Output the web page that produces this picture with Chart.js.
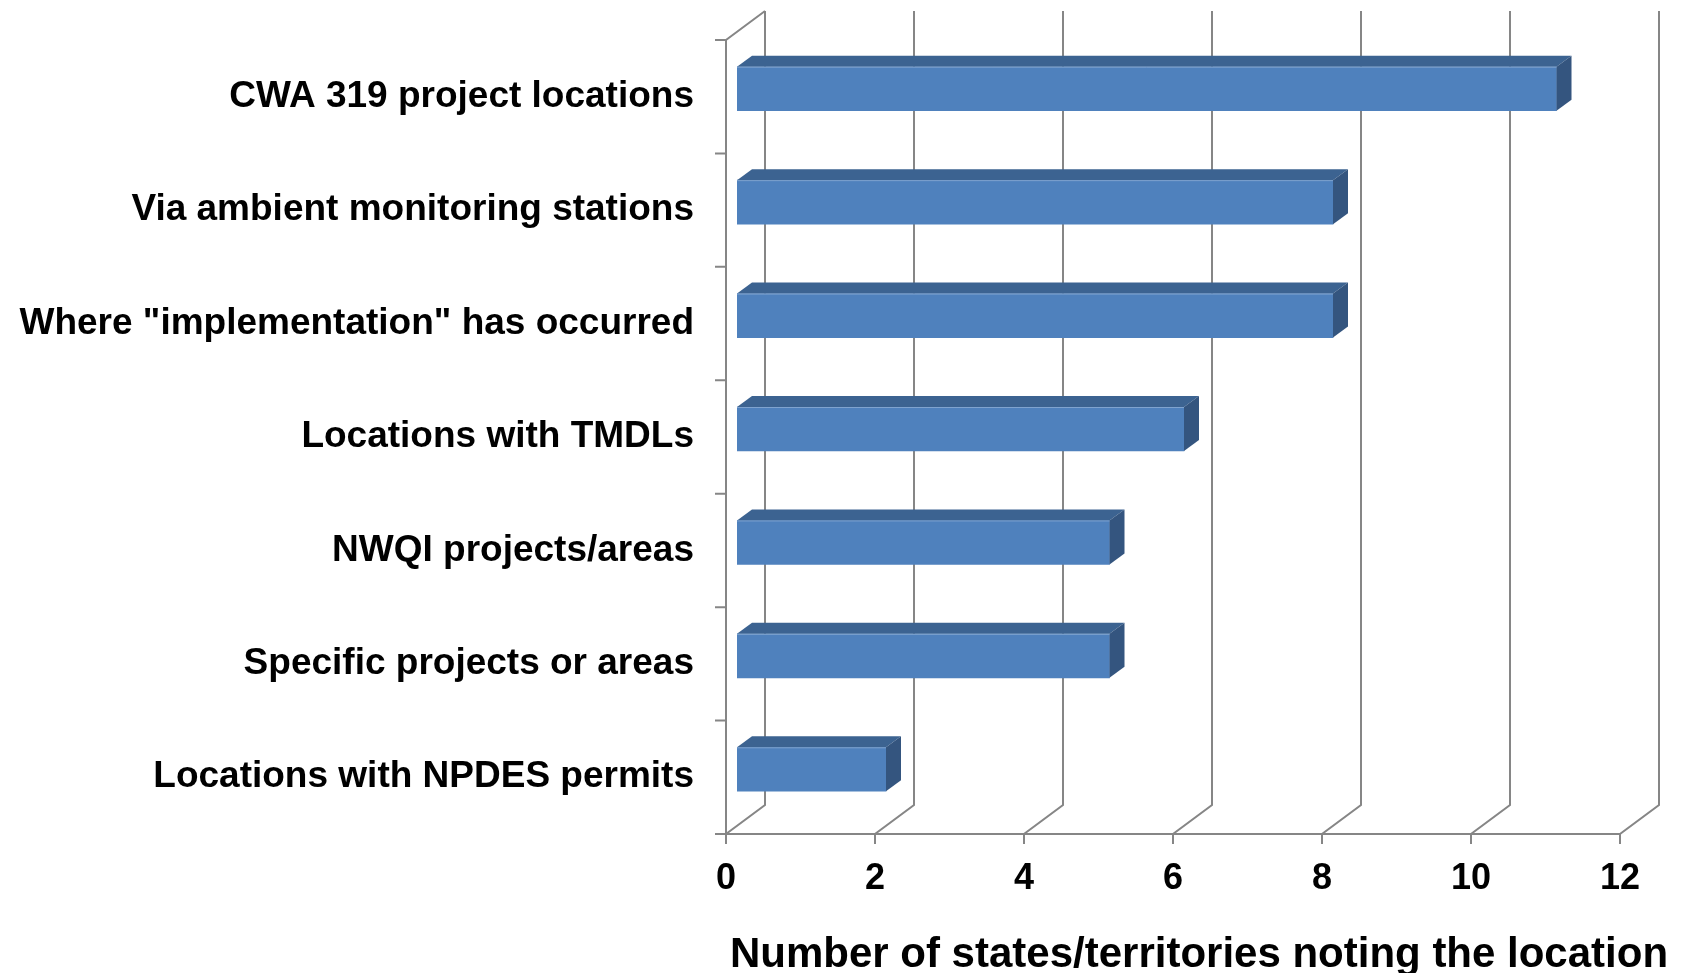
<!DOCTYPE html>
<html>
<head>
<meta charset="utf-8">
<script src="https://cdn.jsdelivr.net/npm/chart.js@4.4.1/dist/chart.umd.min.js"></script>
<style>
html, body { margin: 0; padding: 0; background: #fff; }
#wrap { width: 1702px; height: 973px; }
</style>
</head>
<body>
<div id="wrap"><canvas id="chart"></canvas></div>
<script>
// data
const categories = [
    'CWA 319 project locations',
    'Via ambient monitoring stations',
    'Where "implementation" has occurred',
    'Locations with TMDLs',
    'NWQI projects/areas',
    'Specific projects or areas',
    'Locations with NPDES permits'
];
const counts = [11, 8, 8, 6, 5, 5, 2];
const xTicks = [0, 2, 4, 6, 8, 10, 12];
const axisTitle = 'Number of states/territories noting the location';

// 3d look
const wallDepth = { dx: 39, dy: 29 };
const barShift = { dx: 11, dy: -8 };
const barDepth = { dx: 15, dy: 11 };
const gridColor = '#868686';
const frontColor = '#4f81bd';
const topColor = '#3c6391';
const sideColor = '#34557f';
const fontFamily = "'Liberation Sans', Arial, sans-serif";

const frame3d = {
    id: 'frame3d',
    beforeDatasetsDraw(chart) {
        const { ctx, chartArea: a, scales: { x } } = chart;
        ctx.save();
        ctx.strokeStyle = gridColor;
        ctx.lineWidth = 2;
        ctx.beginPath();
        xTicks.forEach(v => {
            const px = x.getPixelForValue(v);
            ctx.moveTo(px, a.bottom + 10);
            ctx.lineTo(px, a.bottom);
            ctx.lineTo(px + wallDepth.dx, a.bottom - wallDepth.dy);
            ctx.lineTo(px + wallDepth.dx, a.top - wallDepth.dy);
        });
        // floor edge
        ctx.moveTo(a.left, a.bottom);
        ctx.lineTo(a.right, a.bottom);
        // side wall
        ctx.moveTo(a.left, a.bottom);
        ctx.lineTo(a.left, a.top);
        ctx.lineTo(a.left + wallDepth.dx, a.top - wallDepth.dy);
        // category ticks
        const band = (a.bottom - a.top) / categories.length;
        for (let i = 0; i <= categories.length; i++) {
            const py = a.top + i * band;
            ctx.moveTo(a.left - 11, py);
            ctx.lineTo(a.left, py);
        }
        ctx.stroke();
        ctx.restore();
    },
    beforeDatasetDraw(chart) {
        chart.ctx.save();
        chart.ctx.translate(barShift.dx, barShift.dy);
    },
    afterDatasetDraw(chart, args) {
        const ctx = chart.ctx;
        args.meta.data.forEach(bar => {
            const p = bar.getProps(['x', 'y', 'base', 'height'], true);
            const x0 = p.base, x1 = p.x;
            const t = p.y - p.height / 2, b = p.y + p.height / 2;
            const dx = barDepth.dx, dy = barDepth.dy;
            ctx.fillStyle = topColor;
            ctx.beginPath();
            ctx.moveTo(x0, t);
            ctx.lineTo(x1, t);
            ctx.lineTo(x1 + dx, t - dy);
            ctx.lineTo(x0 + dx, t - dy);
            ctx.closePath();
            ctx.fill();
            ctx.fillStyle = sideColor;
            ctx.beginPath();
            ctx.moveTo(x1, t);
            ctx.lineTo(x1 + dx, t - dy);
            ctx.lineTo(x1 + dx, b - dy);
            ctx.lineTo(x1, b);
            ctx.closePath();
            ctx.fill();
            // light edge on top of front face
            ctx.strokeStyle = '#7fa3cf';
            ctx.lineWidth = 1;
            ctx.beginPath();
            ctx.moveTo(x0, t + 0.5);
            ctx.lineTo(x1, t + 0.5);
            ctx.stroke();
        });
        ctx.restore();
    },
    afterDraw(chart) {
        const ctx = chart.ctx;
        ctx.save();
        ctx.font = 'bold 42px ' + fontFamily;
        ctx.fillStyle = '#000';
        ctx.textAlign = 'center';
        ctx.textBaseline = 'alphabetic';
        ctx.fillText(axisTitle, 1199, 967);
        ctx.restore();
    }
};

const ctx = document.getElementById('chart').getContext('2d');
new Chart(ctx, {
    type: 'bar',
    data: {
        labels: categories,
        datasets: [{
            data: counts,
            backgroundColor: frontColor,
            borderWidth: 0,
            barThickness: 44
        }]
    },
    options: {
        indexAxis: 'y',
        responsive: true,
        maintainAspectRatio: false,
        animation: false,
        layout: { padding: { top: 40, right: 82, bottom: 0, left: 0 } },
        plugins: {
            legend: { display: false },
            tooltip: { enabled: false }
        },
        scales: {
            x: {
                min: 0,
                max: 12,
                afterBuildTicks: s => { s.ticks = xTicks.map(v => ({ value: v })); },
                afterFit: s => { s.height = 139; s.paddingLeft = 0; s.paddingRight = 0; },
                grid: { display: false },
                border: { display: false },
                ticks: {
                    color: '#000',
                    padding: 15,
                    maxRotation: 0,
                    font: { family: fontFamily, size: 36, weight: 'bold' }
                }
            },
            y: {
                afterFit: s => { s.width = 726; s.paddingTop = 0; s.paddingBottom = 0; },
                grid: { display: false },
                border: { display: false },
                ticks: {
                    color: '#000',
                    padding: 24,
                    font: { family: fontFamily, size: 37, weight: 'bold' }
                }
            }
        }
    },
    plugins: [frame3d]
});
</script>
</body>
</html>
